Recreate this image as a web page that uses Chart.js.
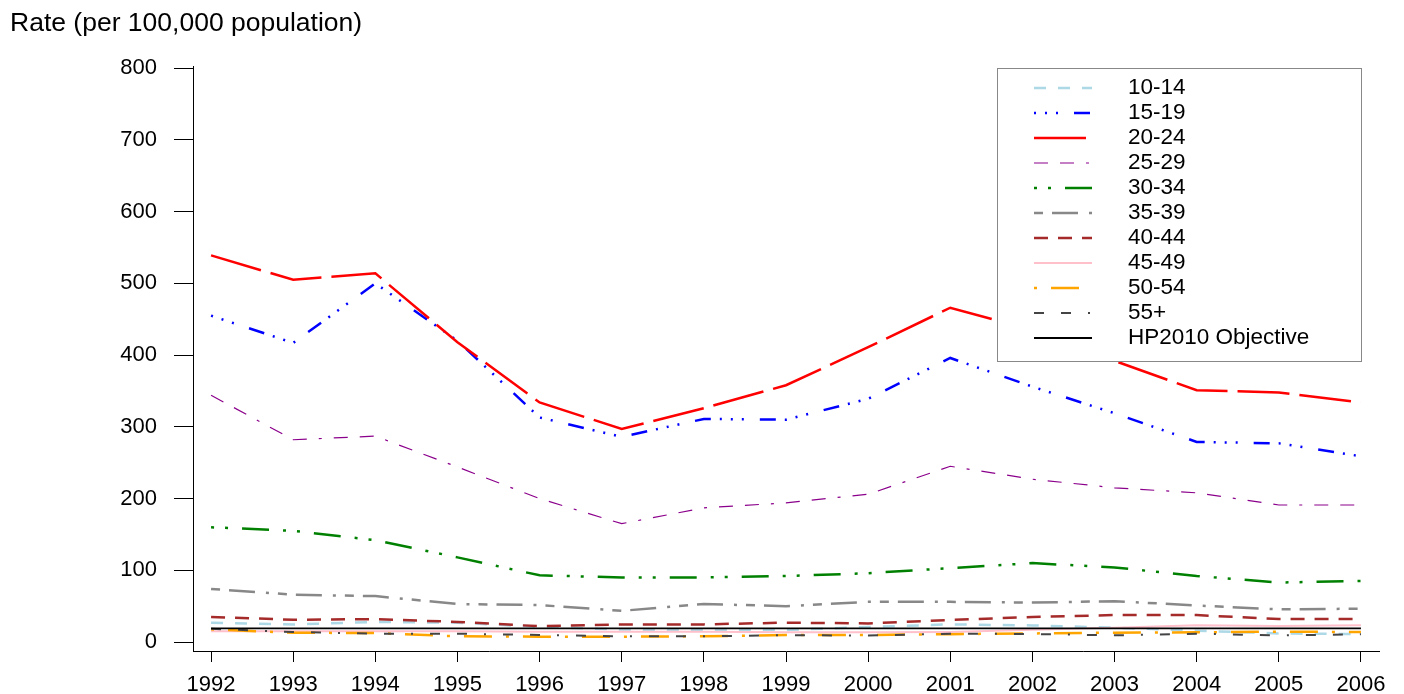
<!DOCTYPE html>
<html>
<head>
<meta charset="utf-8">
<script src="https://cdn.jsdelivr.net/npm/chart.js@4"></script>
<style>
  body { margin: 0; background: #fff; }
  #wrap { width: 1404px; height: 694px; }
</style>
</head>
<body>
<div id="wrap"><canvas id="myChart" width="1404" height="694"></canvas></div>
<script>
const years = [1992, 1993, 1994, 1995, 1996, 1997, 1998, 1999, 2000, 2001, 2002, 2003, 2004, 2005, 2006];
const yTicks = [0, 100, 200, 300, 400, 500, 600, 700, 800];

// rates per 100,000 by age group
const age10_14 = [27, 24.5, 28, 27, 21, 17.5, 16.7, 16.7, 21, 24.6, 23.2, 20, 15.8, 12, 11];
const age15_19 = [455, 417, 500, 420, 313, 286, 311, 310, 339, 396, 356, 319, 279, 277, 259];
const age20_24 = [539, 505, 514, 418, 334, 297, 326, 358, 411, 466, 435, 392, 351, 348, 334];
const age25_29 = [344, 282, 287, 244, 200, 165, 187, 194, 206, 245, 227, 215, 208, 191, 191];
const age30_34 = [160, 155, 142, 118, 93, 90, 90, 92, 96, 103, 110, 104, 92, 83, 85];
const age35_39 = [74, 66, 64, 53, 51.5, 43.5, 53, 50, 56, 56, 55, 57, 51, 45.5, 46.5];
const age40_44 = [35, 31, 32, 28, 22, 24.6, 24.6, 27, 26, 30.7, 35, 37.6, 37.6, 32, 32];
const age45_49 = [15, 15, 15, 15, 14.4, 14.4, 14.4, 13.5, 13.5, 14, 17, 20, 23.5, 22.5, 23.5];
const age50_54 = [17.7, 13, 12.5, 8, 7.5, 7.5, 8, 9.8, 9.8, 11, 12, 13, 13.5, 14.4, 14];
const age55plus = [18.5, 14, 11.6, 11.6, 9.8, 7.9, 7.9, 9.5, 9.1, 11.6, 11.2, 9.3, 11.6, 9.3, 10.7];
const hp2010 = [19, 19, 19, 19, 19, 19, 19, 19, 19, 19, 19, 19, 19, 19, 19];

const FONT = "'Liberation Sans', Arial, sans-serif";

const series = [
    { label: "10-14", data: age10_14, color: "#ADD8E6", width: 2.5, dash: [12, 12] },
    { label: "15-19", data: age15_19, color: "#0000FF", width: 2.5, dash: [2, 9, 2, 9, 2, 16, 16, 9] },
    { label: "20-24", data: age20_24, color: "#FF0000", width: 2.5, dash: [52, 10] },
    { label: "25-29", data: age25_29, color: "#8B008B", width: 1.2, dash: [14, 12, 14, 12, 3, 12] },
    { label: "30-34", data: age30_34, color: "#008000", width: 2.5, dash: [3, 11, 3, 14, 27, 14] },
    { label: "35-39", data: age35_39, color: "#888888", width: 2.5, dash: [9, 9, 26, 11, 3, 9] },
    { label: "40-44", data: age40_44, color: "#A52A2A", width: 2.5, dash: [14, 10] },
    { label: "45-49", data: age45_49, color: "#FFC0CB", width: 2, dash: [] },
    { label: "50-54", data: age50_54, color: "#FFA500", width: 2.5, dash: [3, 14, 28, 14] },
    { label: "55+", data: age55plus, color: "#444444", width: 2, dash: [10, 17, 10, 17, 2, 17] },
    { label: "HP2010 Objective", data: hp2010, color: "#000000", width: 1.8, dash: [] }
];

const datasets = series.map((s, i) => ({
    label: s.label,
    data: years.map((yr, j) => ({ x: yr, y: s.data[j] })),
    borderColor: s.color,
    borderWidth: s.width,
    borderDash: s.dash,
    pointRadius: 0,
    tension: 0,
    fill: false,
    order: series.length - i
}));

// R style title and legend box
const extras = {
    id: "extras",
    afterDraw(chart) {
        const ctx = chart.ctx;
        ctx.save();
        ctx.fillStyle = "#000";
        ctx.font = "26.5px " + FONT;
        ctx.textBaseline = "middle";
        ctx.textAlign = "left";
        ctx.fillText("Rate (per 100,000 population)", 10, 24);

        ctx.fillStyle = "#fff";
        ctx.fillRect(997, 68, 364, 293);
        ctx.strokeStyle = "#888";
        ctx.lineWidth = 1;
        ctx.strokeRect(997.5, 68.5, 364, 293);

        series.forEach((s, i) => {
            const y = 88 + i * 25;
            ctx.beginPath();
            ctx.strokeStyle = s.color;
            ctx.lineWidth = s.width;
            ctx.setLineDash(s.dash);
            ctx.moveTo(1034, y);
            ctx.lineTo(1092, y);
            ctx.stroke();
            ctx.setLineDash([]);
            ctx.fillStyle = "#000";
            ctx.font = "22.5px " + FONT;
            ctx.fillText(s.label, 1128, y);
        });
        ctx.restore();
    }
};

const config = {
    type: "line",
    data: { datasets },
    options: {
        responsive: false,
        animation: false,
        layout: { padding: { top: 66, right: 25, left: 0, bottom: 0 } },
        plugins: {
            legend: { display: false },
            tooltip: { enabled: false }
        },
        scales: {
            x: {
                type: "linear",
                min: 1991.78,
                max: 2006.22,
                afterBuildTicks: (scale) => { scale.ticks = years.map(v => ({ value: v })); },
                afterFit: (scale) => { scale.height = 43; },
                ticks: {
                    color: "#000",
                    font: { family: FONT, size: 22 },
                    padding: 10,
                    maxRotation: 0,
                    autoSkip: false,
                    callback: (v) => String(v)
                },
                grid: { drawOnChartArea: false, drawTicks: true, tickLength: 11, color: "#000" },
                border: { display: true, color: "#000", width: 1 }
            },
            y: {
                min: -12.5,
                max: 803,
                afterBuildTicks: (scale) => { scale.ticks = yTicks.map(v => ({ value: v })); },
                afterFit: (scale) => { scale.width = 193; },
                ticks: {
                    color: "#000",
                    font: { family: FONT, size: 22 },
                    padding: 17,
                    callback: (v) => String(v)
                },
                grid: { drawOnChartArea: false, drawTicks: true, tickLength: 19, color: "#000" },
                border: { display: true, color: "#000", width: 1 }
            }
        }
    },
    plugins: [extras]
};

const ctx = document.querySelector("#myChart").getContext("2d");
new Chart(ctx, config);
</script>
</body>
</html>
